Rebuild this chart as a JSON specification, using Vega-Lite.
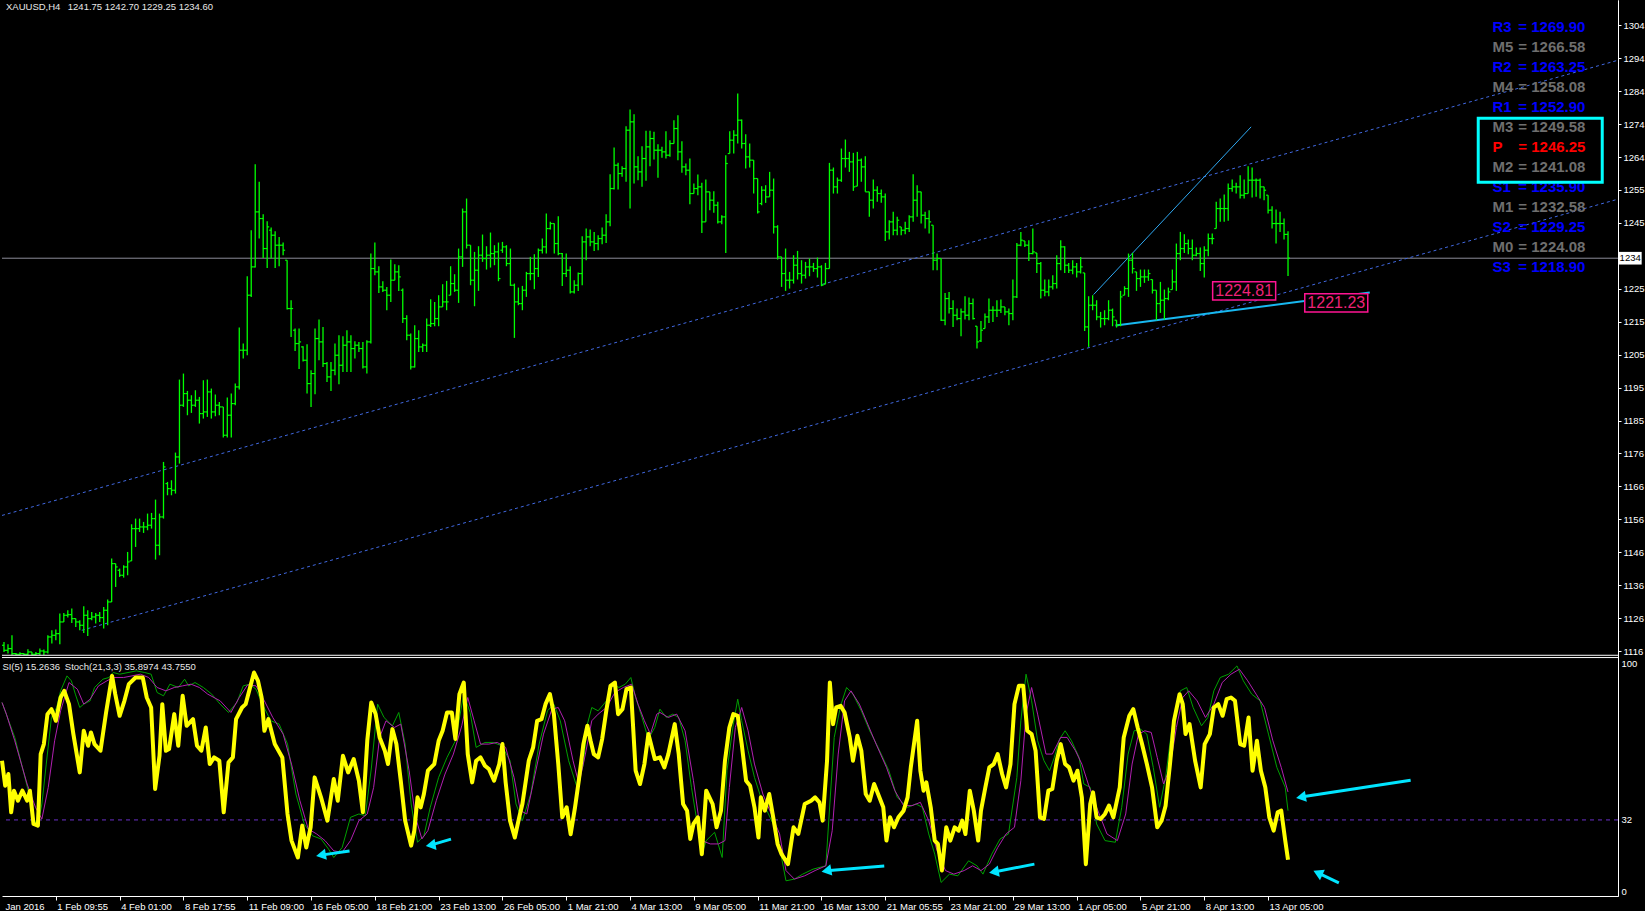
{
"$schema": "https://vega.github.io/schema/vega-lite/v6.json",
"width": 1645, "height": 911,
"autosize": {"type": "fit", "contains": "padding"},
"padding": 0,
"background": "#000000",
"config": {"view": {"stroke": null}, "axis": {"labelFont": "Liberation Sans", "grid": false}, "text": {"font": "Liberation Sans"}},
"datasets": {
"one": [{}],
"bars": [
{"t":0,"o":1118.5,"h":1119.5,"l":1116.5,"c":1117},{"t":1,"o":1117,"h":1118.8,"l":1116,"c":1117.5},{"t":2,"o":1117.5,"h":1121.5,"l":1115.6,"c":1116},{"t":3,"o":1116,"h":1116.2,"l":1115.6,"c":1115.8},{"t":4,"o":1115.8,"h":1116.4,"l":1115.6,"c":1116},{"t":5,"o":1116,"h":1116,"l":1115.6,"c":1115.8},{"t":6,"o":1115.8,"h":1117.3,"l":1115.6,"c":1116.5},{"t":7,"o":1116.5,"h":1116.5,"l":1115.6,"c":1115.8},{"t":8,"o":1115.8,"h":1116.5,"l":1115.6,"c":1116},{"t":9,"o":1116,"h":1117.5,"l":1115.6,"c":1116.8},
{"t":10,"o":1116.8,"h":1117.2,"l":1115.6,"c":1116.5},{"t":11,"o":1116.5,"h":1121.5,"l":1116,"c":1121},{"t":12,"o":1121,"h":1123,"l":1119,"c":1121.5},{"t":13,"o":1121.5,"h":1123.2,"l":1120,"c":1122},{"t":14,"o":1122,"h":1128,"l":1118.8,"c":1125.5},{"t":15,"o":1125.5,"h":1128.2,"l":1125.5,"c":1127.5},{"t":16,"o":1127.5,"h":1129,"l":1126.8,"c":1127.7},{"t":17,"o":1127.7,"h":1129.5,"l":1125.2,"c":1126.5},{"t":18,"o":1126.5,"h":1126.5,"l":1124,"c":1125.5},{"t":19,"o":1125.5,"h":1126,"l":1123,"c":1124.5},
{"t":20,"o":1124.5,"h":1130.2,"l":1122.2,"c":1127.5},{"t":21,"o":1127.5,"h":1129,"l":1121.3,"c":1126.5},{"t":22,"o":1126.5,"h":1128.5,"l":1126,"c":1127},{"t":23,"o":1127,"h":1128.2,"l":1125,"c":1127.5},{"t":24,"o":1127.5,"h":1128.5,"l":1125.5,"c":1126.8},{"t":25,"o":1126.8,"h":1130,"l":1123.5,"c":1129},{"t":26,"o":1129,"h":1132.2,"l":1124.5,"c":1131.5},{"t":27,"o":1131.5,"h":1144.5,"l":1131.5,"c":1143},{"t":28,"o":1143,"h":1143,"l":1136,"c":1142},{"t":29,"o":1141,"h":1141.5,"l":1139,"c":1139.5},
{"t":30,"o":1139.5,"h":1142.5,"l":1138.8,"c":1142},{"t":31,"o":1142,"h":1146.5,"l":1139.5,"c":1143.5},{"t":32,"o":1143.8,"h":1154.8,"l":1143.8,"c":1153.5},{"t":33,"o":1153.5,"h":1156.5,"l":1148,"c":1153.5},{"t":34,"o":1153.5,"h":1156.5,"l":1152.5,"c":1154},{"t":35,"o":1154,"h":1155.5,"l":1152.2,"c":1154},{"t":36,"o":1154,"h":1158,"l":1153,"c":1154.5},{"t":37,"o":1154.5,"h":1158.2,"l":1153.5,"c":1156.5},{"t":38,"o":1156.5,"h":1162.2,"l":1144.2,"c":1148.5},{"t":39,"o":1148.5,"h":1158,"l":1145.5,"c":1157},
{"t":40,"o":1157,"h":1173.5,"l":1156.5,"c":1172},{"t":41,"o":1167,"h":1167.5,"l":1163.5,"c":1165.5},{"t":42,"o":1165.5,"h":1168,"l":1163.5,"c":1165},{"t":43,"o":1165,"h":1176.3,"l":1164,"c":1175},{"t":44,"o":1175,"h":1198.2,"l":1173,"c":1190.5},{"t":45,"o":1190.5,"h":1200,"l":1190,"c":1194},{"t":46,"o":1194,"h":1194.8,"l":1187.5,"c":1192},{"t":47,"o":1192,"h":1193.5,"l":1188.2,"c":1190.5},{"t":48,"o":1190.5,"h":1195,"l":1190,"c":1192},{"t":49,"o":1192,"h":1193,"l":1185,"c":1188},
{"t":50,"o":1188,"h":1198,"l":1186.5,"c":1188.5},{"t":51,"o":1188.5,"h":1198.2,"l":1187,"c":1194.5},{"t":52,"o":1194.5,"h":1195.5,"l":1186.5,"c":1188.5},{"t":53,"o":1188.5,"h":1193.7,"l":1187.2,"c":1190.5},{"t":54,"o":1190.5,"h":1191.5,"l":1187.5,"c":1190},{"t":55,"o":1190,"h":1190,"l":1180.8,"c":1181.5},{"t":56,"o":1181.5,"h":1192.8,"l":1180.8,"c":1187.5},{"t":57,"o":1187.5,"h":1194,"l":1180.8,"c":1191},{"t":58,"o":1191,"h":1197,"l":1190.5,"c":1196},{"t":59,"o":1196,"h":1213.8,"l":1195.2,"c":1207},
{"t":60,"o":1207,"h":1209,"l":1204.5,"c":1207},{"t":61,"o":1207,"h":1229.2,"l":1205.5,"c":1223.5},{"t":62,"o":1223.5,"h":1243,"l":1223,"c":1232},{"t":63,"o":1232,"h":1262.8,"l":1231.8,"c":1248.5},{"t":64,"o":1248.5,"h":1257.5,"l":1240.5,"c":1246.5},{"t":65,"o":1246.5,"h":1247.8,"l":1234.7,"c":1237.5},{"t":66,"o":1237.5,"h":1245.7,"l":1231.7,"c":1244},{"t":67,"o":1243,"h":1243.8,"l":1234.5,"c":1241.5},{"t":68,"o":1241.5,"h":1242.7,"l":1231.7,"c":1238.5},{"t":69,"o":1238.5,"h":1241,"l":1232.2,"c":1238.5},
{"t":70,"o":1238.5,"h":1239.3,"l":1235.5,"c":1237},{"t":71,"o":1234,"h":1234,"l":1219.2,"c":1219.5},{"t":72,"o":1219.5,"h":1222,"l":1211,"c":1219.5},{"t":73,"o":1213,"h":1213.5,"l":1206.8,"c":1209},{"t":74,"o":1209,"h":1213.5,"l":1201.4,"c":1209.5},{"t":75,"o":1208,"h":1208.2,"l":1203.6,"c":1204},{"t":76,"o":1204,"h":1208.8,"l":1194,"c":1197},{"t":77,"o":1197,"h":1201,"l":1190,"c":1200},{"t":78,"o":1200,"h":1213.5,"l":1193.8,"c":1210.5},{"t":79,"o":1210.5,"h":1216.2,"l":1204,"c":1209.5},
{"t":80,"o":1209.5,"h":1214,"l":1202,"c":1203},{"t":81,"o":1203,"h":1203.5,"l":1197.5,"c":1199},{"t":82,"o":1199,"h":1203.5,"l":1194.8,"c":1201},{"t":83,"o":1201,"h":1209,"l":1199.5,"c":1205.5},{"t":84,"o":1205.5,"h":1211.5,"l":1196.8,"c":1202.5},{"t":85,"o":1202.5,"h":1211.2,"l":1200.5,"c":1208.5},{"t":86,"o":1208.5,"h":1213,"l":1200.5,"c":1209.5},{"t":87,"o":1209.5,"h":1211.5,"l":1200.5,"c":1207.5},{"t":88,"o":1207.5,"h":1209.7,"l":1204.5,"c":1208.5},{"t":89,"o":1208.5,"h":1209.5,"l":1206.5,"c":1207.5},
{"t":90,"o":1207.5,"h":1209.5,"l":1201.5,"c":1202},{"t":91,"o":1202,"h":1210,"l":1200,"c":1209.5},{"t":92,"o":1209.5,"h":1236,"l":1209,"c":1231.5},{"t":93,"o":1231.5,"h":1239.3,"l":1229.5,"c":1230.5},{"t":94,"o":1230.5,"h":1232.2,"l":1224.2,"c":1226},{"t":95,"o":1226,"h":1227.7,"l":1224.5,"c":1225},{"t":96,"o":1225,"h":1226,"l":1219,"c":1223.5},{"t":97,"o":1223.5,"h":1234.2,"l":1221.5,"c":1228},{"t":98,"o":1228,"h":1232.8,"l":1228,"c":1230.5},{"t":99,"o":1230.5,"h":1232.5,"l":1224.8,"c":1229},
{"t":100,"o":1225,"h":1225.5,"l":1215.2,"c":1216.5},{"t":101,"o":1216.5,"h":1217.5,"l":1210,"c":1211.5},{"t":102,"o":1211.5,"h":1212,"l":1201.2,"c":1202},{"t":103,"o":1202,"h":1214.5,"l":1201.8,"c":1210.5},{"t":104,"o":1210.5,"h":1213,"l":1206.5,"c":1208},{"t":105,"o":1208,"h":1209,"l":1206.5,"c":1208.5},{"t":106,"o":1208.5,"h":1216.5,"l":1206.5,"c":1214.5},{"t":107,"o":1214.5,"h":1222.3,"l":1214,"c":1215},{"t":108,"o":1215,"h":1221.5,"l":1214.2,"c":1216.5},{"t":109,"o":1216.5,"h":1223.5,"l":1214.2,"c":1220},
{"t":110,"o":1220,"h":1226.8,"l":1220,"c":1221.5},{"t":111,"o":1221.5,"h":1227.8,"l":1219,"c":1221.5},{"t":112,"o":1223.5,"h":1232.2,"l":1223.5,"c":1227},{"t":113,"o":1227,"h":1229.8,"l":1224.5,"c":1225},{"t":114,"o":1225,"h":1237.5,"l":1221.2,"c":1235},{"t":115,"o":1235,"h":1249.5,"l":1232,"c":1248.5},{"t":116,"o":1248.5,"h":1252.5,"l":1237.5,"c":1238.5},{"t":117,"o":1238.5,"h":1238.5,"l":1226.5,"c":1228},{"t":118,"o":1228,"h":1236.5,"l":1220.2,"c":1231},{"t":119,"o":1231,"h":1238.2,"l":1224.8,"c":1235.5},
{"t":120,"o":1235.5,"h":1241.7,"l":1233.5,"c":1234.5},{"t":121,"o":1234.5,"h":1238.2,"l":1231.2,"c":1235.5},{"t":122,"o":1235.5,"h":1242.3,"l":1231.8,"c":1236},{"t":123,"o":1236,"h":1238.5,"l":1232.5,"c":1236.5},{"t":124,"o":1236.5,"h":1239.3,"l":1227.7,"c":1228.5},{"t":125,"o":1237,"h":1239.5,"l":1236.2,"c":1238},{"t":126,"o":1238,"h":1238.5,"l":1232.2,"c":1233},{"t":127,"o":1233,"h":1237.5,"l":1226.3,"c":1226.5},{"t":128,"o":1226.5,"h":1227,"l":1210.7,"c":1221.5},{"t":129,"o":1221.5,"h":1225.8,"l":1220.5,"c":1221},
{"t":130,"o":1221,"h":1226.3,"l":1219,"c":1225},{"t":131,"o":1225,"h":1230.5,"l":1223,"c":1230},{"t":132,"o":1230,"h":1235,"l":1228,"c":1230},{"t":133,"o":1230,"h":1235.8,"l":1225.3,"c":1231.5},{"t":134,"o":1231.5,"h":1237.5,"l":1229,"c":1237},{"t":135,"o":1237,"h":1240.5,"l":1236,"c":1238},{"t":136,"o":1238,"h":1248,"l":1236,"c":1243.5},{"t":137,"o":1243.5,"h":1245.5,"l":1243.2,"c":1245},{"t":138,"o":1245,"h":1245,"l":1236,"c":1239},{"t":139,"o":1239,"h":1247.2,"l":1235.5,"c":1236},
{"t":140,"o":1236,"h":1236.2,"l":1226.3,"c":1230},{"t":141,"o":1230,"h":1236,"l":1229,"c":1231},{"t":142,"o":1231,"h":1232.2,"l":1224,"c":1224.5},{"t":143,"o":1224.5,"h":1228,"l":1224,"c":1226.5},{"t":144,"o":1226.5,"h":1230.3,"l":1224.8,"c":1230},{"t":145,"o":1230,"h":1241.2,"l":1226.5,"c":1239.5},{"t":146,"o":1239.5,"h":1243.5,"l":1234,"c":1241},{"t":147,"o":1241,"h":1243.2,"l":1238.2,"c":1239.5},{"t":148,"o":1239.5,"h":1242.5,"l":1236.8,"c":1239},{"t":149,"o":1239,"h":1241.5,"l":1237,"c":1240.5},
{"t":150,"o":1240.5,"h":1243.8,"l":1238.8,"c":1241.5},{"t":151,"o":1241.5,"h":1247.8,"l":1239.2,"c":1245.5},{"t":152,"o":1245.5,"h":1259.8,"l":1244.2,"c":1255.5},{"t":153,"o":1255.5,"h":1267.8,"l":1255.2,"c":1262.5},{"t":154,"o":1262.5,"h":1263.2,"l":1255.2,"c":1260},{"t":155,"o":1260,"h":1262.2,"l":1259,"c":1261.5},{"t":156,"o":1261.5,"h":1274.2,"l":1257.5,"c":1273},{"t":157,"o":1273,"h":1279.2,"l":1249.5,"c":1275.5},{"t":158,"o":1275.5,"h":1277.8,"l":1257,"c":1262},{"t":159,"o":1262,"h":1265.2,"l":1258,"c":1260.5},
{"t":160,"o":1260.5,"h":1268.2,"l":1256,"c":1264.5},{"t":161,"o":1264.5,"h":1272.8,"l":1257.8,"c":1268},{"t":162,"o":1268,"h":1272.8,"l":1262.2,"c":1270.5},{"t":163,"o":1270.5,"h":1272.5,"l":1264.2,"c":1267},{"t":164,"o":1267,"h":1268.8,"l":1258.7,"c":1267},{"t":165,"o":1267,"h":1268,"l":1264.7,"c":1266.5},{"t":166,"o":1266.5,"h":1272.7,"l":1264.5,"c":1265.5},{"t":167,"o":1265.5,"h":1270,"l":1265,"c":1269},{"t":168,"o":1269,"h":1276,"l":1269,"c":1273.5},{"t":169,"o":1273.5,"h":1277.5,"l":1264,"c":1266.5},
{"t":170,"o":1266.5,"h":1269.7,"l":1260.2,"c":1262},{"t":171,"o":1262,"h":1263,"l":1259.5,"c":1261},{"t":172,"o":1261,"h":1264.5,"l":1250.8,"c":1254},{"t":173,"o":1254,"h":1257,"l":1254,"c":1255.5},{"t":174,"o":1255.5,"h":1259.7,"l":1253.5,"c":1256},{"t":175,"o":1256,"h":1257.2,"l":1242.2,"c":1245.5},{"t":176,"o":1245.5,"h":1258.2,"l":1245.5,"c":1254.5},{"t":177,"o":1254.5,"h":1254.5,"l":1249,"c":1252},{"t":178,"o":1252,"h":1254.7,"l":1248.2,"c":1250.5},{"t":179,"o":1250.5,"h":1251.5,"l":1245,"c":1245.5},
{"t":180,"o":1245.5,"h":1247.5,"l":1244.8,"c":1247},{"t":181,"o":1247,"h":1265.5,"l":1236.2,"c":1263},{"t":182,"o":1266,"h":1272.7,"l":1266,"c":1270},{"t":183,"o":1270,"h":1273,"l":1266,"c":1271.5},{"t":184,"o":1271.5,"h":1284,"l":1269,"c":1276},{"t":185,"o":1276,"h":1276.2,"l":1267.5,"c":1269},{"t":186,"o":1269,"h":1271.8,"l":1261.5,"c":1265},{"t":187,"o":1265,"h":1269,"l":1261.8,"c":1264},{"t":188,"o":1264,"h":1264,"l":1254,"c":1258.5},{"t":189,"o":1258.5,"h":1258.5,"l":1248,"c":1248.5},
{"t":190,"o":1251,"h":1256.2,"l":1250.5,"c":1255},{"t":191,"o":1255,"h":1256.5,"l":1251.2,"c":1253},{"t":192,"o":1253,"h":1260.5,"l":1253,"c":1255},{"t":193,"o":1255,"h":1258.5,"l":1242,"c":1244},{"t":194,"o":1244,"h":1244.5,"l":1234.2,"c":1235},{"t":195,"o":1235,"h":1235,"l":1226,"c":1230},{"t":196,"o":1230,"h":1237.5,"l":1224.8,"c":1228},{"t":197,"o":1228,"h":1230.5,"l":1225.5,"c":1228},{"t":198,"o":1228,"h":1235.5,"l":1227,"c":1232.5},{"t":199,"o":1232.5,"h":1236.8,"l":1228.2,"c":1230},
{"t":200,"o":1230,"h":1234,"l":1227,"c":1229.5},{"t":201,"o":1229.5,"h":1233.5,"l":1228.5,"c":1232},{"t":202,"o":1232,"h":1234.5,"l":1229.2,"c":1232},{"t":203,"o":1232,"h":1233.2,"l":1230.5,"c":1231.5},{"t":204,"o":1231.5,"h":1234.8,"l":1228.8,"c":1232},{"t":205,"o":1232,"h":1232.5,"l":1226.2,"c":1226.5},{"t":206,"o":1226.8,"h":1233.2,"l":1226.8,"c":1231.5},{"t":207,"o":1231.5,"h":1263.2,"l":1231.5,"c":1261},{"t":208,"o":1261,"h":1261.8,"l":1254,"c":1256},{"t":209,"o":1256,"h":1258.8,"l":1254,"c":1258},
{"t":210,"o":1258,"h":1267.5,"l":1257.5,"c":1264.5},{"t":211,"o":1264.5,"h":1270.2,"l":1261.8,"c":1264.5},{"t":212,"o":1264.5,"h":1266.5,"l":1260.5,"c":1263.5},{"t":213,"o":1263.5,"h":1266.2,"l":1254.8,"c":1256},{"t":214,"o":1256.2,"h":1266.5,"l":1256.2,"c":1264},{"t":215,"o":1264,"h":1264.5,"l":1257.5,"c":1262},{"t":216,"o":1262,"h":1265.2,"l":1254.5,"c":1254.5},{"t":217,"o":1254.5,"h":1254.5,"l":1247,"c":1252},{"t":218,"o":1252,"h":1258.2,"l":1249.5,"c":1255},{"t":219,"o":1255,"h":1256.2,"l":1251.5,"c":1254},
{"t":220,"o":1254,"h":1255.2,"l":1251.2,"c":1253},{"t":221,"o":1253,"h":1254,"l":1239.8,"c":1242.5},{"t":222,"o":1242.5,"h":1246,"l":1240.2,"c":1245.5},{"t":223,"o":1245.5,"h":1248.5,"l":1241.5,"c":1243},{"t":224,"o":1243,"h":1247,"l":1241.5,"c":1246},{"t":225,"o":1244,"h":1244,"l":1241.5,"c":1243},{"t":226,"o":1243,"h":1245.5,"l":1241.8,"c":1243.5},{"t":227,"o":1243.5,"h":1247.5,"l":1242.5,"c":1247},{"t":228,"o":1247,"h":1259.8,"l":1245.5,"c":1252},{"t":229,"o":1252,"h":1256.5,"l":1247,"c":1254.5},
{"t":230,"o":1254.5,"h":1254.5,"l":1245,"c":1247.5},{"t":231,"o":1247.5,"h":1248.5,"l":1243.5,"c":1246.5},{"t":232,"o":1246.5,"h":1249,"l":1242,"c":1245.5},{"t":233,"o":1244.5,"h":1244.5,"l":1231,"c":1234},{"t":234,"o":1234,"h":1236,"l":1231,"c":1234.5},{"t":235,"o":1234.5,"h":1234.5,"l":1215.8,"c":1216},{"t":236,"o":1216,"h":1224.2,"l":1214.5,"c":1222.5},{"t":237,"o":1222.5,"h":1224.5,"l":1218,"c":1219.5},{"t":238,"o":1219.5,"h":1222,"l":1214,"c":1217.5},{"t":239,"o":1217.5,"h":1219.5,"l":1216,"c":1216.5},
{"t":240,"o":1216.5,"h":1219.5,"l":1211.2,"c":1218.5},{"t":241,"o":1218.5,"h":1223.2,"l":1216.2,"c":1217.5},{"t":242,"o":1217.5,"h":1222.8,"l":1216,"c":1221},{"t":243,"o":1221,"h":1222.5,"l":1216.2,"c":1216.5},{"t":244,"o":1214.2,"h":1214.2,"l":1207.5,"c":1209.5},{"t":245,"o":1209.8,"h":1215.8,"l":1209.5,"c":1213},{"t":246,"o":1213.5,"h":1218,"l":1213.5,"c":1217},{"t":247,"o":1217,"h":1222.5,"l":1215.2,"c":1219},{"t":248,"o":1219,"h":1220.2,"l":1215.5,"c":1219},{"t":249,"o":1219,"h":1222,"l":1217,"c":1219},
{"t":250,"o":1219,"h":1222.2,"l":1218.2,"c":1220},{"t":251,"o":1220,"h":1220,"l":1217.5,"c":1218.5},{"t":252,"o":1218.5,"h":1219.5,"l":1214.5,"c":1218},{"t":253,"o":1218,"h":1228.2,"l":1216,"c":1223},{"t":254,"o":1223,"h":1239.2,"l":1222.7,"c":1238.5},{"t":255,"o":1238.5,"h":1242.5,"l":1238.2,"c":1240},{"t":256,"o":1239.8,"h":1239.8,"l":1238,"c":1238.5},{"t":257,"o":1238.5,"h":1240,"l":1233.8,"c":1236},{"t":258,"o":1236,"h":1243.5,"l":1235.8,"c":1236.5},{"t":259,"o":1236.2,"h":1236.2,"l":1230.2,"c":1233},
{"t":260,"o":1233,"h":1233.5,"l":1222.5,"c":1225},{"t":261,"o":1225,"h":1228.2,"l":1223.2,"c":1224.5},{"t":262,"o":1224.5,"h":1228.2,"l":1223.2,"c":1226},{"t":263,"o":1226,"h":1229.5,"l":1225.2,"c":1227},{"t":264,"o":1227,"h":1235.5,"l":1225.5,"c":1233},{"t":265,"o":1233,"h":1240,"l":1231,"c":1238},{"t":266,"o":1238,"h":1238.2,"l":1230.2,"c":1232.5},{"t":267,"o":1232.5,"h":1233.2,"l":1230.2,"c":1231},{"t":268,"o":1231,"h":1234,"l":1229.8,"c":1232},{"t":269,"o":1232,"h":1233.2,"l":1228.8,"c":1230.5},
{"t":270,"o":1230.5,"h":1235,"l":1230,"c":1232},{"t":271,"o":1230.2,"h":1230.2,"l":1212.8,"c":1214},{"t":272,"o":1214,"h":1223.2,"l":1208,"c":1220.5},{"t":273,"o":1220.5,"h":1223.5,"l":1219,"c":1220.5},{"t":274,"o":1220.5,"h":1222,"l":1216,"c":1217},{"t":275,"o":1217,"h":1218.5,"l":1213.8,"c":1216.5},{"t":276,"o":1216.5,"h":1219,"l":1214.5,"c":1216.5},{"t":277,"o":1216.5,"h":1222,"l":1216,"c":1219},{"t":278,"o":1219,"h":1219.5,"l":1214.2,"c":1217},{"t":279,"o":1216,"h":1216,"l":1213.8,"c":1214.5},
{"t":280,"o":1214.5,"h":1224.8,"l":1214.2,"c":1223},{"t":281,"o":1223.5,"h":1226.2,"l":1223.5,"c":1225.5},{"t":282,"o":1225.5,"h":1236,"l":1223,"c":1234},{"t":283,"o":1234,"h":1236.2,"l":1230,"c":1231.5},{"t":284,"o":1230.5,"h":1230.5,"l":1224.8,"c":1228.5},{"t":285,"o":1228.5,"h":1231.2,"l":1226,"c":1229},{"t":286,"o":1229,"h":1231.2,"l":1227.2,"c":1229},{"t":287,"o":1229,"h":1231.2,"l":1227.8,"c":1230},{"t":288,"o":1228.2,"h":1228.2,"l":1224,"c":1225},{"t":289,"o":1225,"h":1225,"l":1216,"c":1221},
{"t":290,"o":1221,"h":1227.5,"l":1218.2,"c":1222},{"t":291,"o":1222,"h":1225.2,"l":1216.2,"c":1222.5},{"t":292,"o":1222.5,"h":1225.8,"l":1222,"c":1224.5},{"t":293,"o":1225.2,"h":1231.2,"l":1225.2,"c":1227.5},{"t":294,"o":1227.5,"h":1239,"l":1224.8,"c":1236},{"t":295,"o":1236,"h":1242.5,"l":1234,"c":1237.5},{"t":296,"o":1237.5,"h":1241.8,"l":1236.2,"c":1239},{"t":297,"o":1239,"h":1240.2,"l":1235.8,"c":1237.5},{"t":298,"o":1237.5,"h":1240.2,"l":1234,"c":1235.5},{"t":299,"o":1235.5,"h":1237.8,"l":1235.2,"c":1236},
{"t":300,"o":1236,"h":1237.8,"l":1230.8,"c":1233},{"t":301,"o":1233,"h":1238.2,"l":1228.8,"c":1237},{"t":302,"o":1237,"h":1242,"l":1235.2,"c":1240.5},{"t":303,"o":1240.5,"h":1242,"l":1238.8,"c":1240.5},{"t":304,"o":1243.5,"h":1251.5,"l":1243.5,"c":1249.5},{"t":305,"o":1249.5,"h":1252.5,"l":1245.5,"c":1249.5},{"t":306,"o":1249.5,"h":1253.7,"l":1245.5,"c":1249.5},{"t":307,"o":1249.5,"h":1257,"l":1245.8,"c":1255.5},{"t":308,"o":1255.5,"h":1258.2,"l":1254.5,"c":1256},{"t":309,"o":1256,"h":1257.2,"l":1254,"c":1256},
{"t":310,"o":1256,"h":1259.5,"l":1252.5,"c":1253.5},{"t":311,"o":1253.5,"h":1258.2,"l":1252.5,"c":1254},{"t":312,"o":1254,"h":1262.2,"l":1254,"c":1258},{"t":313,"o":1258,"h":1261.8,"l":1252.8,"c":1258},{"t":314,"o":1258,"h":1258.5,"l":1253,"c":1258},{"t":315,"o":1258,"h":1258.5,"l":1252.5,"c":1256},{"t":316,"o":1256,"h":1256,"l":1252,"c":1255},{"t":317,"o":1253.5,"h":1253.5,"l":1248,"c":1249},{"t":318,"o":1249,"h":1250.2,"l":1243.5,"c":1245},{"t":319,"o":1245,"h":1249.2,"l":1239,"c":1245},
{"t":320,"o":1245,"h":1248.5,"l":1242.5,"c":1245},{"t":321,"o":1245,"h":1246.5,"l":1240.2,"c":1241.75},{"t":322,"o":1241.75,"h":1242.7,"l":1229.25,"c":1234.6}
],
"rsi": [
{"t":-0.5,"v":56.9},{"t":0.3,"v":46.4},{"t":1.1,"v":51.3},{"t":1.8,"v":35.2},{"t":2.5,"v":44.3},{"t":3.5,"v":40.1},{"t":4.6,"v":44.3},{"t":5.8,"v":40.1},{"t":6.5,"v":44.3},{"t":7.4,"v":30.3},{"t":8.5,"v":29.6},{"t":9.2,"v":59.7},{"t":10,"v":63.9},{"t":10.9,"v":76.5},{"t":11.9,"v":78.6},{"t":13,"v":73.7},{"t":14.2,"v":83.5},{"t":15.1,"v":86.3},{"t":16.3,"v":80.7},{"t":17.4,"v":68.1},{"t":19,"v":52},{"t":20,"v":69.5},{"t":21.1,"v":63.2},{"t":21.8,"v":68.8},{"t":22.7,"v":63.9},{"t":24.2,"v":61.1},{"t":25.6,"v":77.2},{"t":27.1,"v":92.6},{"t":27.9,"v":84.9},{"t":29,"v":75.8},{"t":30.2,"v":82.1},{"t":31.3,"v":89.1},{"t":33,"v":91.9},{"t":34.8,"v":91.9},{"t":35.8,"v":83.5},{"t":36.9,"v":79.3},{"t":37.9,"v":45},{"t":39,"v":59},{"t":39.7,"v":80.7},{"t":40.6,"v":61.1},{"t":41.4,"v":61.8},{"t":42.7,"v":76.5},{"t":43.7,"v":63.2},{"t":44.8,"v":84.2},{"t":45.8,"v":71.6},{"t":47.4,"v":74.4},{"t":48.4,"v":63.2},{"t":49.5,"v":61.1},{"t":50.6,"v":70.9},{"t":51.6,"v":55.5},{"t":52.7,"v":58.3},{"t":54,"v":56.9},{"t":55.1,"v":35.2},{"t":56.3,"v":56.2},{"t":57.4,"v":58.3},{"t":58.2,"v":74.4},{"t":59.7,"v":79.3},{"t":60.6,"v":80.7},{"t":62.7,"v":94},{"t":63.7,"v":90.5},{"t":64.6,"v":83.5},{"t":65.3,"v":69.5},{"t":66.3,"v":74.4},{"t":67.9,"v":63.9},{"t":69.8,"v":58.3},{"t":71.1,"v":34.5},{"t":72.1,"v":23.3},{"t":73.7,"v":16.2},{"t":74.8,"v":29.6},{"t":75.8,"v":20.4},{"t":76.9,"v":28.9},{"t":77.9,"v":49.9},{"t":79.5,"v":41.5},{"t":81.1,"v":31.7},{"t":82.7,"v":49.2},{"t":83.7,"v":40.1},{"t":85,"v":59},{"t":86.3,"v":52},{"t":87.7,"v":57.6},{"t":89,"v":48.5},{"t":90,"v":35.2},{"t":91.1,"v":65.3},{"t":92.1,"v":81.4},{"t":93.2,"v":76.5},{"t":94.2,"v":66.7},{"t":95.5,"v":61.1},{"t":96.3,"v":55.5},{"t":97.4,"v":70.2},{"t":98.4,"v":63.9},{"t":99.5,"v":48.5},{"t":100.6,"v":31.7},{"t":102.1,"v":21.2},{"t":102.9,"v":27.5},{"t":103.7,"v":41.5},{"t":104.5,"v":37.3},{"t":105.3,"v":42.9},{"t":106.3,"v":52.7},{"t":107.9,"v":55.5},{"t":109,"v":65.3},{"t":110,"v":69.5},{"t":111.1,"v":77.2},{"t":112.3,"v":77.2},{"t":113.2,"v":66},{"t":114.2,"v":84.9},{"t":115.3,"v":89.8},{"t":116.3,"v":59.7},{"t":117.4,"v":47.8},{"t":118.4,"v":56.9},{"t":119.5,"v":58.3},{"t":120.6,"v":54.8},{"t":121.6,"v":53.4},{"t":122.9,"v":48.5},{"t":124.2,"v":55.5},{"t":125,"v":63.9},{"t":125.8,"v":47.8},{"t":126.9,"v":31.7},{"t":128.1,"v":24.6},{"t":129.2,"v":33.1},{"t":130,"v":38.7},{"t":131.6,"v":56.9},{"t":132.7,"v":62.5},{"t":133.7,"v":73.7},{"t":134.8,"v":74.4},{"t":135.8,"v":80.7},{"t":136.9,"v":84.9},{"t":137.9,"v":76.5},{"t":139,"v":55.5},{"t":140,"v":33.1},{"t":141.1,"v":37.3},{"t":142.1,"v":26},{"t":143.2,"v":37.3},{"t":144.2,"v":49.2},{"t":145.3,"v":63.9},{"t":146.3,"v":71.6},{"t":147.1,"v":65.3},{"t":147.9,"v":59.7},{"t":149,"v":58.3},{"t":150,"v":66},{"t":151.1,"v":78.6},{"t":152.1,"v":88.4},{"t":153.2,"v":89.8},{"t":154,"v":76.5},{"t":155.1,"v":78.6},{"t":156.1,"v":87},{"t":157.2,"v":87.7},{"t":158.4,"v":52.7},{"t":159.5,"v":47.1},{"t":160.6,"v":55.5},{"t":161.6,"v":68.1},{"t":163.2,"v":57.6},{"t":164.5,"v":58.3},{"t":165.6,"v":54.1},{"t":166.6,"v":59.7},{"t":168.2,"v":72.3},{"t":169.2,"v":59.7},{"t":170.3,"v":38.7},{"t":171.3,"v":35.9},{"t":172.1,"v":24},{"t":172.9,"v":30.3},{"t":174,"v":33.1},{"t":175,"v":17.6},{"t":176.1,"v":44.3},{"t":177.7,"v":38.7},{"t":178.7,"v":28.9},{"t":179.8,"v":35.9},{"t":180.8,"v":56.9},{"t":181.9,"v":70.9},{"t":182.9,"v":76.5},{"t":184,"v":75.8},{"t":185,"v":63.9},{"t":186.1,"v":48.5},{"t":187.1,"v":46.4},{"t":188.2,"v":37.3},{"t":189.2,"v":24.6},{"t":189.8,"v":41.5},{"t":190.8,"v":35.9},{"t":191.9,"v":42.9},{"t":192.9,"v":33.1},{"t":194,"v":21.9},{"t":195,"v":17.6},{"t":196.6,"v":13.4},{"t":198,"v":28.9},{"t":199.2,"v":26.1},{"t":200.8,"v":38.7},{"t":202.4,"v":40.1},{"t":203.4,"v":41.5},{"t":204.5,"v":39.4},{"t":205.3,"v":31.7},{"t":206.4,"v":56.9},{"t":207.1,"v":89.8},{"t":207.9,"v":72.3},{"t":208.7,"v":79.3},{"t":209.8,"v":80},{"t":210.8,"v":77.2},{"t":212.1,"v":66.7},{"t":212.9,"v":56.9},{"t":214,"v":67.4},{"t":215,"v":61.1},{"t":216.1,"v":42.9},{"t":217.1,"v":40.1},{"t":218.2,"v":47.1},{"t":219.2,"v":42.9},{"t":220.5,"v":37.3},{"t":221.3,"v":23.3},{"t":222.2,"v":33.1},{"t":223.2,"v":28.9},{"t":224.3,"v":33.1},{"t":225.6,"v":35.9},{"t":226.6,"v":41.5},{"t":227.4,"v":54.1},{"t":228.2,"v":63.9},{"t":229,"v":73.7},{"t":229.8,"v":52.7},{"t":230.6,"v":44.3},{"t":231.3,"v":47.8},{"t":232.4,"v":37.3},{"t":233.4,"v":23.3},{"t":234.2,"v":21.9},{"t":235.2,"v":10.7},{"t":236.3,"v":28.9},{"t":237.3,"v":23.3},{"t":238.4,"v":28.9},{"t":239.4,"v":27.5},{"t":240.3,"v":31.7},{"t":241.1,"v":26.1},{"t":242.2,"v":44.3},{"t":243.2,"v":35.9},{"t":244.3,"v":23.3},{"t":245,"v":35.9},{"t":246.1,"v":45.7},{"t":247.1,"v":54.1},{"t":248.2,"v":55.5},{"t":249.2,"v":59.7},{"t":250.3,"v":51.3},{"t":251.3,"v":45.7},{"t":252.4,"v":55.5},{"t":253.4,"v":80.7},{"t":254.5,"v":88.4},{"t":255.6,"v":88.4},{"t":256.6,"v":69.5},{"t":257.7,"v":68.1},{"t":258.7,"v":61.1},{"t":259.8,"v":33.1},{"t":260.8,"v":32.4},{"t":261.9,"v":44.3},{"t":262.9,"v":45},{"t":264,"v":56.9},{"t":265,"v":63.9},{"t":266.1,"v":55.5},{"t":267.1,"v":54.1},{"t":268.2,"v":48.5},{"t":269.2,"v":52.7},{"t":270.3,"v":41.5},{"t":271.3,"v":13.4},{"t":272.4,"v":38.7},{"t":273.1,"v":43.6},{"t":274,"v":33.1},{"t":275,"v":32.4},{"t":276.1,"v":34.5},{"t":277.1,"v":38},{"t":278.2,"v":33.1},{"t":279.8,"v":45.7},{"t":280.8,"v":66.7},{"t":282.2,"v":75.8},{"t":283.2,"v":78.6},{"t":284.3,"v":70.9},{"t":285.3,"v":64.6},{"t":286.6,"v":55.5},{"t":287.9,"v":45.7},{"t":289.2,"v":28.9},{"t":290.3,"v":31.7},{"t":291.3,"v":38},{"t":292.4,"v":55.5},{"t":293.4,"v":73.7},{"t":294.8,"v":84.9},{"t":295.6,"v":80.7},{"t":296.3,"v":68.1},{"t":297.3,"v":72.3},{"t":298.7,"v":56.9},{"t":300.1,"v":45.7},{"t":301.1,"v":63.9},{"t":302.4,"v":68.1},{"t":303.4,"v":79.3},{"t":304.5,"v":80.7},{"t":305.6,"v":75.8},{"t":306.6,"v":82.8},{"t":307.7,"v":83.5},{"t":308.7,"v":82.1},{"t":310,"v":63.9},{"t":311,"v":63.2},{"t":312.1,"v":75.1},{"t":313.1,"v":52.7},{"t":314.2,"v":65.3},{"t":315.2,"v":52.7},{"t":316.3,"v":45.7},{"t":317.3,"v":33.1},{"t":318.4,"v":27.5},{"t":319.4,"v":35.2},{"t":320.3,"v":35.9},{"t":321.3,"v":23.3},{"t":322,"v":15.26}
],
"stk": [
{"t":-0.5,"v":81.4},{"t":2.7,"v":66.7},{"t":6.3,"v":42.9},{"t":7.4,"v":33.1},{"t":8.4,"v":28.9},{"t":9.5,"v":38.7},{"t":10.6,"v":55.5},{"t":11.9,"v":75.1},{"t":13.2,"v":79.3},{"t":14.2,"v":86.3},{"t":15.8,"v":92.6},{"t":16.9,"v":90.5},{"t":17.9,"v":84.9},{"t":19,"v":79.3},{"t":20,"v":80.7},{"t":21.6,"v":82.1},{"t":22.7,"v":87.7},{"t":24.8,"v":91.2},{"t":26.3,"v":91.9},{"t":27.4,"v":94},{"t":29,"v":93.3},{"t":31.1,"v":94},{"t":33.2,"v":94.7},{"t":35.3,"v":94},{"t":36.9,"v":93.3},{"t":38.4,"v":85.6},{"t":40,"v":84.2},{"t":41.6,"v":89.1},{"t":43.7,"v":87.7},{"t":45.3,"v":91.2},{"t":46.3,"v":88.4},{"t":47.9,"v":89.8},{"t":50,"v":87.7},{"t":52.1,"v":84.9},{"t":54.2,"v":80.7},{"t":56.3,"v":77.2},{"t":58.4,"v":81.4},{"t":60,"v":88.4},{"t":61.6,"v":89.1},{"t":63.2,"v":87},{"t":64.8,"v":80.7},{"t":66.9,"v":73.7},{"t":69,"v":72.3},{"t":71.1,"v":63.9},{"t":73.2,"v":42.9},{"t":75.3,"v":30.3},{"t":77.4,"v":25.3},{"t":79.5,"v":24},{"t":81.4,"v":19.7},{"t":82.7,"v":16.2},{"t":84.8,"v":20.4},{"t":86.9,"v":33.1},{"t":89,"v":34.5},{"t":90.6,"v":33.8},{"t":92.1,"v":53.4},{"t":93.7,"v":80.7},{"t":95.3,"v":75.1},{"t":97.4,"v":71.6},{"t":99,"v":77.2},{"t":100.6,"v":63.9},{"t":102.1,"v":38.7},{"t":103.7,"v":22.6},{"t":105.3,"v":25.3},{"t":106.9,"v":37.3},{"t":109,"v":49.9},{"t":111.1,"v":58.3},{"t":113.2,"v":65.3},{"t":115.3,"v":84.9},{"t":116.9,"v":77.2},{"t":118.4,"v":62.5},{"t":120.6,"v":64.6},{"t":122.7,"v":64.6},{"t":124.8,"v":63.2},{"t":126.9,"v":56.9},{"t":128.4,"v":38.7},{"t":130,"v":31.7},{"t":132.1,"v":42.9},{"t":134.2,"v":63.9},{"t":136.3,"v":77.9},{"t":137.9,"v":80.7},{"t":139.5,"v":73.7},{"t":141.6,"v":56.9},{"t":143.7,"v":45.7},{"t":145.3,"v":55.5},{"t":146.3,"v":72.3},{"t":147.4,"v":79.3},{"t":149,"v":77.9},{"t":151.1,"v":82.1},{"t":152.7,"v":89.1},{"t":154.2,"v":87.7},{"t":155.8,"v":89.1},{"t":157.2,"v":91.9},{"t":158.4,"v":83.5},{"t":160,"v":75.1},{"t":161.6,"v":66},{"t":163.2,"v":70.9},{"t":164.5,"v":78.6},{"t":166.1,"v":75.1},{"t":167.7,"v":76.5},{"t":169.2,"v":75.1},{"t":170.8,"v":65.3},{"t":172.4,"v":45.7},{"t":174,"v":28.9},{"t":175,"v":17.6},{"t":176.1,"v":23.3},{"t":178.2,"v":26.8},{"t":180.1,"v":16.2},{"t":181.3,"v":52.7},{"t":182.9,"v":72.3},{"t":184,"v":82.8},{"t":185,"v":73.7},{"t":186.6,"v":61.1},{"t":188.2,"v":49.9},{"t":189.8,"v":41.5},{"t":191.3,"v":35.9},{"t":192.9,"v":30.3},{"t":194.5,"v":20.4},{"t":196.1,"v":6.4},{"t":198.2,"v":7.1},{"t":200.3,"v":9.2},{"t":202.9,"v":11.3},{"t":206.1,"v":12.7},{"t":207.1,"v":38.7},{"t":208.2,"v":66.7},{"t":209.8,"v":80},{"t":211.3,"v":87.7},{"t":212.9,"v":84.9},{"t":215,"v":77.9},{"t":217.1,"v":69.5},{"t":219.2,"v":62.5},{"t":221.9,"v":52.7},{"t":224,"v":41.5},{"t":226.6,"v":37.3},{"t":228.7,"v":38.7},{"t":230.3,"v":37.3},{"t":231.9,"v":26.1},{"t":233.4,"v":17.6},{"t":235,"v":5.7},{"t":237.1,"v":9.2},{"t":239.2,"v":8.5},{"t":241.9,"v":14.8},{"t":244,"v":12.7},{"t":245.5,"v":9.2},{"t":247.7,"v":17.6},{"t":249.8,"v":24},{"t":251.9,"v":26.1},{"t":254,"v":49.9},{"t":255,"v":73.7},{"t":256.3,"v":93.3},{"t":257.7,"v":82.1},{"t":259.2,"v":65.3},{"t":260.8,"v":56.9},{"t":262.2,"v":52.7},{"t":263.4,"v":58.3},{"t":264.7,"v":66},{"t":266.1,"v":69.5},{"t":267.7,"v":65.3},{"t":269.6,"v":58.3},{"t":270.8,"v":47.1},{"t":272.4,"v":45.7},{"t":274,"v":30.3},{"t":276.1,"v":23.3},{"t":278.7,"v":22.6},{"t":280.3,"v":37.3},{"t":281.9,"v":59.7},{"t":283.4,"v":69.5},{"t":285,"v":70.2},{"t":286.6,"v":68.1},{"t":288.2,"v":54.1},{"t":289.8,"v":37.3},{"t":291.3,"v":49.9},{"t":292.9,"v":70.9},{"t":295,"v":86.3},{"t":296.6,"v":87.7},{"t":298.2,"v":79.3},{"t":300.3,"v":71.6},{"t":301.9,"v":75.1},{"t":303.4,"v":86.3},{"t":305,"v":91.9},{"t":307.1,"v":93.3},{"t":309.2,"v":96.8},{"t":310.8,"v":90.5},{"t":312.9,"v":84.9},{"t":315,"v":82.1},{"t":317.1,"v":68.1},{"t":319.2,"v":54.1},{"t":321.3,"v":45.7},{"t":322,"v":35.9}
],
"sig": [
{"t":-0.5,"v":81.4},{"t":0.6,"v":76.5},{"t":2.7,"v":65.3},{"t":5.8,"v":47.1},{"t":7.9,"v":37.3},{"t":9.5,"v":32.4},{"t":11.1,"v":45.7},{"t":12.7,"v":65.3},{"t":14.2,"v":77.9},{"t":16.3,"v":89.8},{"t":18.4,"v":87},{"t":20,"v":80.7},{"t":21.6,"v":82.8},{"t":23.7,"v":88.4},{"t":25.8,"v":90.5},{"t":27.4,"v":91.9},{"t":30,"v":91.9},{"t":32.1,"v":92.6},{"t":34.2,"v":93.3},{"t":36.3,"v":91.9},{"t":38.4,"v":87.7},{"t":40.6,"v":86.3},{"t":42.7,"v":87.7},{"t":44.8,"v":88.4},{"t":46.9,"v":89.1},{"t":49,"v":87.7},{"t":51.1,"v":84.9},{"t":54.2,"v":82.1},{"t":56.9,"v":77.2},{"t":59,"v":83.5},{"t":61.1,"v":88.8},{"t":63.2,"v":88.4},{"t":65.3,"v":82.1},{"t":67.4,"v":75.1},{"t":70,"v":68.1},{"t":72.1,"v":55.5},{"t":74.2,"v":40.1},{"t":76.3,"v":28.2},{"t":78.4,"v":26.1},{"t":80.5,"v":23.3},{"t":82.7,"v":19},{"t":84.8,"v":18.4},{"t":86.9,"v":23.3},{"t":89,"v":31.7},{"t":91.1,"v":34.5},{"t":92.7,"v":45.7},{"t":94.2,"v":66.7},{"t":95.8,"v":73.7},{"t":97.9,"v":70.9},{"t":99.5,"v":72.3},{"t":101.6,"v":52.7},{"t":103.2,"v":33.1},{"t":104.8,"v":24},{"t":106.3,"v":27.5},{"t":108.4,"v":40.1},{"t":110.6,"v":51.3},{"t":112.7,"v":59.7},{"t":114.8,"v":71.6},{"t":116.3,"v":83.5},{"t":117.9,"v":73.7},{"t":119.5,"v":63.9},{"t":121.6,"v":63.9},{"t":123.7,"v":64.6},{"t":125.8,"v":62.5},{"t":127.9,"v":49.9},{"t":129.5,"v":35.9},{"t":131.1,"v":34.5},{"t":133.2,"v":51.3},{"t":135.3,"v":68.1},{"t":137.4,"v":78.6},{"t":139,"v":79.3},{"t":140.6,"v":73.7},{"t":142.7,"v":56.9},{"t":144.2,"v":47.1},{"t":145.8,"v":59.7},{"t":147.4,"v":73.7},{"t":149,"v":76.5},{"t":151.1,"v":79.3},{"t":153.2,"v":85.6},{"t":155.3,"v":87.7},{"t":157.4,"v":89.1},{"t":159,"v":80.7},{"t":160.6,"v":73.7},{"t":162.1,"v":68.1},{"t":163.7,"v":76.5},{"t":164.5,"v":77.2},{"t":166.6,"v":75.1},{"t":168.7,"v":76.5},{"t":170.8,"v":69.5},{"t":172.9,"v":48.5},{"t":175,"v":23.3},{"t":177.1,"v":21.9},{"t":179.2,"v":21.9},{"t":180.8,"v":23.3},{"t":181.9,"v":45.7},{"t":183.4,"v":70.9},{"t":185,"v":79.3},{"t":186.6,"v":69.5},{"t":188.2,"v":55.5},{"t":190.3,"v":42.9},{"t":192.4,"v":34.5},{"t":194.5,"v":26.1},{"t":196.1,"v":10.7},{"t":198.2,"v":7.1},{"t":200.8,"v":8.5},{"t":203.4,"v":10.7},{"t":206.1,"v":12.7},{"t":207.7,"v":27.5},{"t":209.2,"v":59.7},{"t":210.8,"v":82.1},{"t":212.4,"v":86.3},{"t":214.5,"v":80.7},{"t":216.6,"v":72.3},{"t":218.7,"v":63.9},{"t":221.3,"v":54.1},{"t":223.4,"v":44.3},{"t":225.6,"v":38},{"t":227.7,"v":38},{"t":229.8,"v":39.4},{"t":231.9,"v":31.7},{"t":234,"v":19},{"t":236.1,"v":10.7},{"t":238.2,"v":9.2},{"t":240.8,"v":10.7},{"t":242.9,"v":12.7},{"t":245,"v":10.7},{"t":247.1,"v":13.4},{"t":249.2,"v":20.4},{"t":251.3,"v":26.1},{"t":253.4,"v":28.9},{"t":255,"v":48.5},{"t":256.3,"v":76.5},{"t":257.7,"v":87.7},{"t":259.2,"v":76.5},{"t":261.3,"v":59.7},{"t":262.9,"v":59.7},{"t":265,"v":66.7},{"t":266.6,"v":66.7},{"t":268.7,"v":61.1},{"t":270.3,"v":55.5},{"t":271.9,"v":47.1},{"t":274,"v":37.3},{"t":276.6,"v":26.1},{"t":279.2,"v":23.3},{"t":281.3,"v":34.5},{"t":282.9,"v":55.5},{"t":284.5,"v":68.1},{"t":286.1,"v":69.5},{"t":287.7,"v":68.8},{"t":289.2,"v":58.3},{"t":290.8,"v":47.1},{"t":292.4,"v":54.1},{"t":294,"v":70.9},{"t":295.6,"v":83.5},{"t":297.1,"v":86.3},{"t":299.2,"v":82.1},{"t":301.3,"v":75.1},{"t":303.4,"v":80.7},{"t":305.5,"v":89.8},{"t":307.7,"v":93.3},{"t":309.8,"v":95.4},{"t":311.9,"v":90.5},{"t":314,"v":84.9},{"t":316.1,"v":79.3},{"t":318.2,"v":65.3},{"t":320.3,"v":54.1},{"t":322,"v":43.76}
],
"arr": [
{"a":1,"e":"tail","t":86.65,"v":18.9},{"a":1,"e":"head","t":79.5,"v":17.2},
{"a":2,"e":"tail","t":112.1,"v":23.9},{"a":2,"e":"head","t":107,"v":21.4},
{"a":3,"e":"tail","t":220.75,"v":12.6},{"a":3,"e":"head","t":206.25,"v":10.6},
{"a":4,"e":"tail","t":258.4,"v":13.4},{"a":4,"e":"head","t":248.25,"v":10.1},
{"a":5,"e":"tail","t":352.75,"v":48.7},{"a":5,"e":"head","t":325.25,"v":41.6},
{"a":6,"e":"tail","t":334.75,"v":5.5},{"a":6,"e":"head","t":329.5,"v":9.7}
],
"chan": [
{"id":"A","t":-0.5,"p":1157.45},{"id":"A","t":405,"p":1294.07},
{"id":"B","t":19.5,"p":1123.0},{"id":"B","t":405,"p":1252.4}
],
"cy": [
{"id":"s","t":273.25,"p":1223.7},{"id":"s","t":312.75,"p":1274.0},
{"id":"f","t":278.75,"p":1214.4},{"id":"f","t":342.5,"p":1224.3}
],
"lbl": [
{"t":311,"p":1224.81,"s":"1224.81"},{"t":334.1,"p":1221.23,"s":"1221.23"}
],
"ttl": [
{"t":0.5,"s":"XAUUSD,H4"},{"t":16,"s":"1241.75 1242.70 1229.25 1234.60"}
],
"ottl": [
{"t":-0.4,"s":"SI(5) 15.2636"},{"t":15.25,"s":"Stoch(21,3,3) 35.8974 43.7550"}
],
"piv": [
{"n":"R3","val":"= 1269.90","g":"R"},{"n":"M5","val":"= 1266.58","g":"M"},{"n":"R2","val":"= 1263.25","g":"R"},{"n":"M4","val":"= 1258.08","g":"M"},{"n":"R1","val":"= 1252.90","g":"R"},{"n":"M3","val":"= 1249.58","g":"M"},{"n":"P","val":"= 1246.25","g":"P"},{"n":"M2","val":"= 1241.08","g":"M"},{"n":"S1","val":"= 1235.90","g":"R"},{"n":"M1","val":"= 1232.58","g":"M"},{"n":"S2","val":"= 1229.25","g":"R"},{"n":"M0","val":"= 1224.08","g":"M"},{"n":"S3","val":"= 1218.90","g":"R"}
]
},
"layer": [
{"layer": [
 {"data": {"name": "one"}, "mark": {"type": "rule", "color": "#8c8c98", "strokeWidth": 1},
  "encoding": {"y": {"datum": 1234.6, "type": "quantitative", "scale": {"domain": [1043.3, 1312.05], "nice": false, "zero": false},
    "axis": {"title": null, "orient": "right", "values": [1116.75,1126.63,1136.51,1146.39,1156.27,1166.15,1176.03,1185.91,1195.79,1205.67,1215.55,1225.43,1245.19,1255.07,1264.95,1274.83,1284.71,1294.59,1304.47],
      "labelExpr": "floor(datum.value)", "labelOverlap": false, "labelFlush": false, "tickSize": 3, "tickColor": "#ffffff", "domainColor": "#ffffff", "labelColor": "#ffffff", "labelFontSize": 9.5, "labelPadding": 2}}}},
 {"data": {"name": "chan"}, "mark": {"type": "line", "color": "#4169e1", "strokeWidth": 1, "strokeDash": [3, 3], "clip": true},
  "encoding": {"x": {"field": "t", "type": "quantitative", "scale": {"domain": [-0.5, 404.75], "nice": false, "zero": false},
     "axis": {"title": null, "values": [0,13,29,45,61,77,93,109,125,141,157,173,189,205,221,237,253,269,285,301,317],
       "labelExpr": "({'0':'Jan 2016','13':'1 Feb 09:55','29':'4 Feb 01:00','45':'8 Feb 17:55','61':'11 Feb 09:00','77':'16 Feb 05:00','93':'18 Feb 21:00','109':'23 Feb 13:00','125':'26 Feb 05:00','141':'1 Mar 21:00','157':'4 Mar 13:00','173':'9 Mar 05:00','189':'11 Mar 21:00','205':'16 Mar 13:00','221':'21 Mar 05:55','237':'23 Mar 21:00','253':'29 Mar 13:00','269':'1 Apr 05:00','285':'5 Apr 21:00','301':'8 Apr 13:00','317':'13 Apr 05:00'})[datum.value]",
       "labelAlign": "left", "labelBaseline": "top", "labelOverlap": false, "labelFlush": false, "labelPadding": 1, "labelOffset": 1, "tickSize": 4, "tickColor": "#ffffff",
       "tickOpacity": {"condition": {"test": "datum.value == 0", "value": 0}, "value": 1},
       "domainColor": "#ffffff", "labelColor": "#ffffff", "labelFontSize": 9.5}},
    "y": {"field": "p", "type": "quantitative", "scale": {"domain": [1043.3, 1312.05], "nice": false, "zero": false}, "axis": {"title": null}},
    "detail": {"field": "id"}}},
 {"data": {"name": "cy"}, "transform": [{"filter": "datum.id == 's'"}], "mark": {"type": "line", "color": "#2ea8f2", "strokeWidth": 1},
  "encoding": {"x": {"field": "t", "type": "quantitative", "scale": {"domain": [-0.5, 404.75], "nice": false, "zero": false}, "axis": {"title": null}},
    "y": {"field": "p", "type": "quantitative", "scale": {"domain": [1043.3, 1312.05], "nice": false, "zero": false}, "axis": {"title": null}}}},
 {"data": {"name": "cy"}, "transform": [{"filter": "datum.id == 'f'"}], "mark": {"type": "line", "color": "#18b8f0", "strokeWidth": 2},
  "encoding": {"x": {"field": "t", "type": "quantitative", "scale": {"domain": [-0.5, 404.75], "nice": false, "zero": false}, "axis": {"title": null}},
    "y": {"field": "p", "type": "quantitative", "scale": {"domain": [1043.3, 1312.05], "nice": false, "zero": false}, "axis": {"title": null}}}},
 {"data": {"name": "bars"}, "mark": {"type": "rule", "color": "#00ff00", "strokeWidth": 1.3},
  "encoding": {"x": {"field": "t", "type": "quantitative", "scale": {"domain": [-0.5, 404.75], "nice": false, "zero": false}, "axis": {"title": null}},
    "y": {"field": "l", "type": "quantitative", "scale": {"domain": [1043.3, 1312.05], "nice": false, "zero": false}, "axis": {"title": null}},
    "y2": {"field": "h"}}},
 {"data": {"name": "bars"}, "mark": {"type": "tick", "orient": "horizontal", "size": 2, "thickness": 1.2, "xOffset": -1, "color": "#00ff00", "opacity": 1},
  "encoding": {"x": {"field": "t", "type": "quantitative", "scale": {"domain": [-0.5, 404.75], "nice": false, "zero": false}, "axis": {"title": null}},
    "y": {"field": "o", "type": "quantitative", "scale": {"domain": [1043.3, 1312.05], "nice": false, "zero": false}, "axis": {"title": null}}}},
 {"data": {"name": "bars"}, "mark": {"type": "tick", "orient": "horizontal", "size": 2, "thickness": 1.2, "xOffset": 1, "color": "#00ff00", "opacity": 1},
  "encoding": {"x": {"field": "t", "type": "quantitative", "scale": {"domain": [-0.5, 404.75], "nice": false, "zero": false}, "axis": {"title": null}},
    "y": {"field": "c", "type": "quantitative", "scale": {"domain": [1043.3, 1312.05], "nice": false, "zero": false}, "axis": {"title": null}}}},
 {"data": {"name": "lbl"}, "mark": {"type": "point", "shape": "M-1,-0.29L1,-0.29L1,0.29L-1,0.29Z", "size": 3969, "filled": true, "fill": "#000000", "stroke": "#ff1493", "strokeWidth": 1.5, "opacity": 1},
  "encoding": {"x": {"field": "t", "type": "quantitative", "scale": {"domain": [-0.5, 404.75], "nice": false, "zero": false}, "axis": {"title": null}},
    "y": {"field": "p", "type": "quantitative", "scale": {"domain": [1043.3, 1312.05], "nice": false, "zero": false}, "axis": {"title": null}}}},
 {"data": {"name": "lbl"}, "mark": {"type": "text", "fontSize": 16, "color": "#ee2277", "align": "center", "baseline": "middle"},
  "encoding": {"x": {"field": "t", "type": "quantitative", "scale": {"domain": [-0.5, 404.75], "nice": false, "zero": false}, "axis": {"title": null}},
    "y": {"field": "p", "type": "quantitative", "scale": {"domain": [1043.3, 1312.05], "nice": false, "zero": false}, "axis": {"title": null}},
    "text": {"field": "s"}}},
 {"data": {"name": "one"}, "mark": {"type": "point", "shape": "M-1,-0.55L1,-0.55L1,0.55L-1,0.55Z", "size": 529, "filled": true, "color": "#ffffff", "opacity": 1},
  "encoding": {"x": {"datum": 407.8, "type": "quantitative", "scale": {"domain": [-0.5, 404.75], "nice": false, "zero": false}, "axis": {"title": null}},
    "y": {"datum": 1234.6, "type": "quantitative", "scale": {"domain": [1043.3, 1312.05], "nice": false, "zero": false}, "axis": {"title": null}}}},
 {"data": {"name": "one"}, "mark": {"type": "text", "text": "1234", "fontSize": 9.5, "color": "#000000", "align": "center", "baseline": "middle"},
  "encoding": {"x": {"datum": 407.8, "type": "quantitative", "scale": {"domain": [-0.5, 404.75], "nice": false, "zero": false}, "axis": {"title": null}},
    "y": {"datum": 1234.6, "type": "quantitative", "scale": {"domain": [1043.3, 1312.05], "nice": false, "zero": false}, "axis": {"title": null}}}},
 {"data": {"name": "ttl"}, "mark": {"type": "text", "fontSize": 9.5, "color": "#e8e8e8", "align": "left", "baseline": "middle"},
  "encoding": {"x": {"field": "t", "type": "quantitative", "scale": {"domain": [-0.5, 404.75], "nice": false, "zero": false}, "axis": {"title": null}},
    "y": {"datum": 1309.95, "type": "quantitative", "scale": {"domain": [1043.3, 1312.05], "nice": false, "zero": false}, "axis": {"title": null}},
    "text": {"field": "s"}}}
]},
{"layer": [
 {"data": {"name": "one"}, "mark": {"type": "rule", "color": "#6a30c8", "strokeWidth": 1, "strokeDash": [4, 4]},
  "encoding": {"y": {"datum": 32, "type": "quantitative", "scale": {"domain": [0, 376.9], "nice": false, "zero": false},
    "axis": {"title": null, "orient": "right", "values": [0, 32, 100], "ticks": false, "domainColor": "#ffffff", "labelColor": "#ffffff", "labelFontSize": 9.5, "labelPadding": 3, "labelOverlap": false, "labelFlush": false,
      "labelBaseline": {"condition": [{"test": "datum.value == 100", "value": "top"}, {"test": "datum.value == 0", "value": "bottom"}], "value": "middle"}}}}},
 {"data": {"name": "one"}, "mark": {"type": "rule", "color": "#ffffff", "strokeWidth": 1},
  "encoding": {"y": {"datum": 101.26, "type": "quantitative", "scale": {"domain": [0, 376.9], "nice": false, "zero": false}, "axis": {"title": null}}}},
 {"data": {"name": "one"}, "mark": {"type": "rule", "color": "#ffffff", "strokeWidth": 1},
  "encoding": {"y": {"datum": 100.3, "type": "quantitative", "scale": {"domain": [0, 376.9], "nice": false, "zero": false}, "axis": {"title": null}}}},
 {"data": {"name": "stk"}, "mark": {"type": "line", "color": "#00a000", "strokeWidth": 1},
  "encoding": {"x": {"field": "t", "type": "quantitative", "scale": {"domain": [-0.5, 404.75], "nice": false, "zero": false}, "axis": {"title": null}},
    "y": {"field": "v", "type": "quantitative", "scale": {"domain": [0, 376.9], "nice": false, "zero": false}, "axis": {"title": null}}}},
 {"data": {"name": "sig"}, "mark": {"type": "line", "color": "#b020b0", "strokeWidth": 1},
  "encoding": {"x": {"field": "t", "type": "quantitative", "scale": {"domain": [-0.5, 404.75], "nice": false, "zero": false}, "axis": {"title": null}},
    "y": {"field": "v", "type": "quantitative", "scale": {"domain": [0, 376.9], "nice": false, "zero": false}, "axis": {"title": null}}}},
 {"data": {"name": "rsi"}, "mark": {"type": "line", "color": "#ffff00", "strokeWidth": 4, "strokeJoin": "round"},
  "encoding": {"x": {"field": "t", "type": "quantitative", "scale": {"domain": [-0.5, 404.75], "nice": false, "zero": false}, "axis": {"title": null}},
    "y": {"field": "v", "type": "quantitative", "scale": {"domain": [0, 376.9], "nice": false, "zero": false}, "axis": {"title": null}}}},
 {"data": {"name": "arr"}, "mark": {"type": "line", "color": "#00e5ff", "strokeWidth": 3},
  "encoding": {"x": {"field": "t", "type": "quantitative", "scale": {"domain": [-0.5, 404.75], "nice": false, "zero": false}, "axis": {"title": null}},
    "y": {"field": "v", "type": "quantitative", "scale": {"domain": [0, 376.9], "nice": false, "zero": false}, "axis": {"title": null}},
    "detail": {"field": "a"}}},
 {"data": {"name": "arr"}, "transform": [{"filter": "datum.e == 'head' && datum.a != 6"}], "mark": {"type": "point", "shape": "triangle-left", "size": 130, "filled": true, "color": "#00e5ff", "opacity": 1, "angle": -10},
  "encoding": {"x": {"field": "t", "type": "quantitative", "scale": {"domain": [-0.5, 404.75], "nice": false, "zero": false}, "axis": {"title": null}},
    "y": {"field": "v", "type": "quantitative", "scale": {"domain": [0, 376.9], "nice": false, "zero": false}, "axis": {"title": null}}}},
 {"data": {"name": "arr"}, "transform": [{"filter": "datum.e == 'head' && datum.a == 6"}], "mark": {"type": "point", "shape": "triangle-left", "size": 130, "filled": true, "color": "#00e5ff", "opacity": 1, "angle": 25},
  "encoding": {"x": {"field": "t", "type": "quantitative", "scale": {"domain": [-0.5, 404.75], "nice": false, "zero": false}, "axis": {"title": null}},
    "y": {"field": "v", "type": "quantitative", "scale": {"domain": [0, 376.9], "nice": false, "zero": false}, "axis": {"title": null}}}},
 {"data": {"name": "ottl"}, "mark": {"type": "text", "fontSize": 9.5, "color": "#e8e8e8", "align": "left", "baseline": "middle"},
  "encoding": {"x": {"field": "t", "type": "quantitative", "scale": {"domain": [-0.5, 404.75], "nice": false, "zero": false}, "axis": {"title": null}},
    "y": {"datum": 96.3, "type": "quantitative", "scale": {"domain": [0, 376.9], "nice": false, "zero": false}, "axis": {"title": null}},
    "text": {"field": "s"}}}
]},
{"data": {"name": "piv"},
 "layer": [
 {"mark": {"type": "text", "align": "left", "baseline": "middle", "fontSize": 15, "fontWeight": "bold"},
  "encoding": {"x": {"datum": 373.25, "type": "quantitative", "scale": {"domain": [-0.5, 404.75], "nice": false, "zero": false}, "axis": {"title": null}},
    "y": {"field": "n", "type": "ordinal", "sort": null, "scale": {"domain": ["R3","M5","R2","M4","R1","M3","P","M2","S1","M1","S2","M0","S3"], "range": [27.3, 267], "padding": 0}, "axis": null},
    "text": {"field": "n"},
    "color": {"field": "g", "type": "nominal", "scale": {"domain": ["R", "M", "P"], "range": ["#0000ff", "#6e6e6e", "#ff0000"]}, "legend": null}}},
 {"mark": {"type": "text", "align": "left", "baseline": "middle", "fontSize": 15, "fontWeight": "bold"},
  "encoding": {"x": {"datum": 379.75, "type": "quantitative", "scale": {"domain": [-0.5, 404.75], "nice": false, "zero": false}, "axis": {"title": null}},
    "y": {"field": "n", "type": "ordinal", "sort": null, "scale": {"domain": ["R3","M5","R2","M4","R1","M3","P","M2","S1","M1","S2","M0","S3"], "range": [27.3, 267], "padding": 0}, "axis": null},
    "text": {"field": "val"},
    "color": {"field": "g", "type": "nominal", "scale": {"domain": ["R", "M", "P"], "range": ["#0000ff", "#6e6e6e", "#ff0000"]}, "legend": null}}},
 {"transform": [{"filter": "datum.n == 'P'"}],
  "mark": {"type": "point", "shape": "M-1,-0.516L1,-0.516L1,0.516L-1,0.516Z", "size": 15376, "filled": false, "color": "#00ffff", "strokeWidth": 3, "opacity": 1, "yOffset": 3},
  "encoding": {"x": {"datum": 385.25, "type": "quantitative", "scale": {"domain": [-0.5, 404.75], "nice": false, "zero": false}, "axis": {"title": null}},
    "y": {"field": "n", "type": "ordinal", "sort": null, "scale": {"domain": ["R3","M5","R2","M4","R1","M3","P","M2","S1","M1","S2","M0","S3"], "range": [27.3, 267], "padding": 0}, "axis": null}}}
 ]}
],
"resolve": {"scale": {"y": "independent"}, "axis": {"y": "independent"}}
}
